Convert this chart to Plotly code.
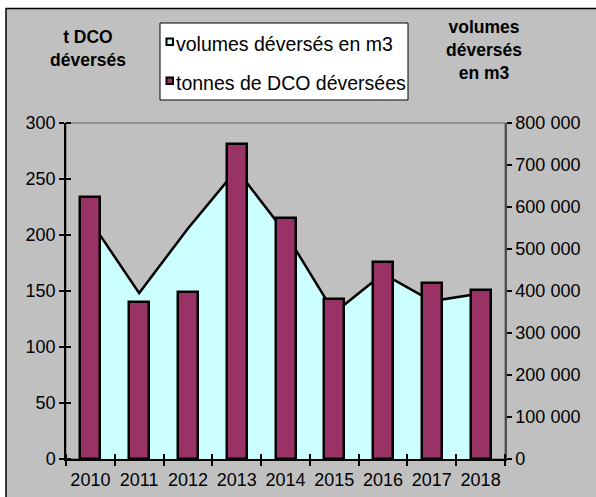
import plotly.graph_objects as go

years = ["2010", "2011", "2012", "2013", "2014", "2015", "2016", "2017", "2018"]
volumes_m3 = [567000, 395000, 549000, 689000, 538000, 348000, 441000, 376000, 394000]
tonnes_dco = [234, 140, 149, 281, 215, 143, 176, 157, 151]
left_ticks = [0, 50, 100, 150, 200, 250, 300]
right_ticks = [0, 100000, 200000, 300000, 400000, 500000, 600000, 700000, 800000]

W, H = 596, 497
L, R, T, B = 66, 505, 123, 459
FONT = "Liberation Sans, Arial, sans-serif"
GRAY = "#C0C0C0"
CYAN = "#CCFFFF"
MAROON = "#993366"


def px(x):
    return (x - L) / (R - L)


def py(y):
    return (B - y) / (B - T)


xpos = list(range(len(years)))
bounds = [i - 0.5 for i in range(len(years) + 1)]
eps = 1e-6

fig = go.Figure()
fig.add_trace(go.Scatter(
    x=xpos, y=volumes_m3, mode="lines", fill="tozeroy",
    fillcolor=CYAN, line=dict(color="black", width=2.5),
    xaxis="x", yaxis="y", showlegend=False, hoverinfo="skip",
))
fig.add_trace(go.Bar(
    x=xpos, y=tonnes_dco, width=0.41,
    marker=dict(color=MAROON, line=dict(color="black", width=2.5)),
    xaxis="x2", yaxis="y2", showlegend=False,
))

tickfont = dict(family=FONT, size=18, color="black")

shapes = [
    # outer chart frame
    dict(type="rect", xref="paper", yref="paper", x0=px(6), x1=px(620), y0=py(8.5), y1=py(520),
         fillcolor=GRAY, line=dict(color="black", width=1.5), layer="below"),
    # plot area border
    dict(type="rect", xref="paper", yref="paper", x0=0, x1=1, y0=0, y1=1,
         line=dict(color="#808080", width=1.5), layer="below"),
    # legend box
    dict(type="rect", xref="paper", yref="paper", x0=px(160), x1=px(408), y0=py(23), y1=py(100),
         fillcolor="white", line=dict(color="black", width=1)),
    dict(type="rect", xref="paper", yref="paper", x0=px(166.5), x1=px(173), y0=py(38.5), y1=py(45),
         fillcolor=CYAN, line=dict(color="black", width=2)),
    dict(type="rect", xref="paper", yref="paper", x0=px(166.5), x1=px(173), y0=py(77.5), y1=py(84),
         fillcolor=MAROON, line=dict(color="black", width=2)),
]

annotations = [
    dict(text="volumes déversés en m3", x=px(174), y=py(44), xref="paper", yref="paper",
         xanchor="left", yanchor="middle", showarrow=False, font=dict(family=FONT, size=19.5, color="black")),
    dict(text="tonnes de DCO déversées", x=px(174), y=py(83), xref="paper", yref="paper",
         xanchor="left", yanchor="middle", showarrow=False, font=dict(family=FONT, size=19.5, color="black")),
    dict(text="<b>t DCO<br>déversés</b>", x=px(88), y=py(49), xref="paper", yref="paper",
         xanchor="center", yanchor="middle", showarrow=False, align="center",
         font=dict(family=FONT, size=17.5, color="black")),
    dict(text="<b>volumes<br>déversés<br>en m3</b>", x=px(484), y=py(50), xref="paper", yref="paper",
         xanchor="center", yanchor="middle", showarrow=False, align="center",
         font=dict(family=FONT, size=17.5, color="black")),
]

fig.update_layout(
    width=W, height=H,
    margin=dict(l=L, r=W - R, t=T, b=H - B, autoexpand=False),
    paper_bgcolor="white", plot_bgcolor="rgba(0,0,0,0)",
    separators=", ",
    showlegend=False,
    bargap=0,
    shapes=shapes,
    annotations=annotations,
    xaxis=dict(range=[-0.5, 8.5], tickmode="array", tickvals=xpos, ticktext=years,
               ticks="outside", ticklen=4, tickcolor="rgba(0,0,0,0)", tickfont=tickfont,
               minor=dict(tickmode="array", tickvals=bounds, ticks="outside", ticklen=5,
                          tickwidth=1.5, tickcolor="black", showgrid=False),
               showline=True, linecolor="black", linewidth=1.5, showgrid=False, zeroline=False,
               anchor="y", automargin=False),
    xaxis2=dict(range=[-0.5, 8.5], overlaying="x", anchor="y2", tickmode="array", tickvals=[],
                ticks="", showticklabels=False,
                minor=dict(tickmode="array", tickvals=bounds, ticks="inside", ticklen=5,
                           tickwidth=1.5, tickcolor="black", showgrid=False),
                showline=False, showgrid=False, zeroline=False, automargin=False),
    yaxis=dict(range=[0, 800000], side="right", anchor="x", tickmode="array", tickvals=right_ticks,
               tickformat=",d", ticks="outside", ticklen=5, tickwidth=1.5, tickcolor="black",
               tickfont=tickfont, showline=True, linecolor="#505050", linewidth=1.5,
               showgrid=False, zeroline=False, automargin=False),
    yaxis2=dict(range=[0, 300], side="left", overlaying="y", anchor="x2", tickmode="array",
                tickvals=left_ticks, ticks="outside", ticklen=5, tickwidth=1.5, tickcolor="black",
                tickfont=tickfont, showline=True, linecolor="black", linewidth=1.5,
                minor=dict(tickmode="array", tickvals=[v + eps for v in left_ticks], ticks="inside",
                           ticklen=5, tickwidth=1.5, tickcolor="black", showgrid=False),
                showgrid=False, zeroline=False, automargin=False),
)

fig.write_html("out.html", config={"displayModeBar": False},
               post_script="document.body.style.margin='0';")
